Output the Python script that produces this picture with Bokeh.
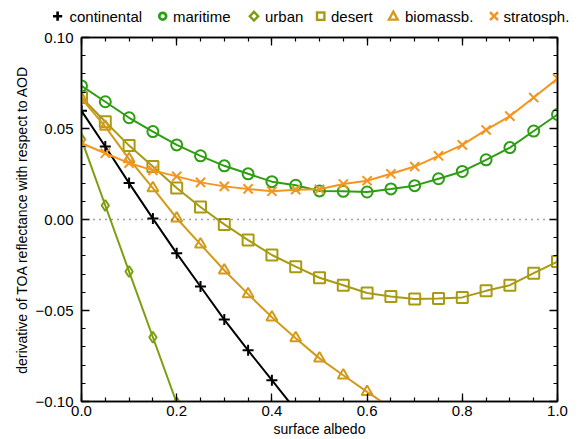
from bokeh.plotting import figure
from bokeh.models import Range1d, LinearAxis, FixedTicker, Span, Div
from bokeh.layouts import column
from bokeh.embed import file_html
from bokeh.resources import INLINE

albedo = [0.0, 0.05, 0.1, 0.15, 0.2, 0.25, 0.3, 0.35, 0.4, 0.45, 0.5,
          0.55, 0.6, 0.65, 0.7, 0.75, 0.8, 0.85, 0.9, 0.95, 1.0]

continental = [0.0597, 0.0401, 0.0200, 0.0005, -0.0186, -0.0368, -0.0550, -0.0719, -0.0883, -0.1047]
maritime = [0.0734, 0.0647, 0.0559, 0.0483, 0.0410, 0.0350, 0.0295, 0.0251, 0.0208, 0.0188, 0.0157,
            0.0155, 0.0151, 0.0168, 0.0186, 0.0224, 0.0264, 0.0328, 0.0395, 0.0486, 0.0577]
urban = [0.0440, 0.0077, -0.0286, -0.0647, -0.1008]
desert = [0.0670, 0.0537, 0.0406, 0.0291, 0.0173, 0.0069, -0.0027, -0.0113, -0.0195, -0.0259, -0.0320,
          -0.0361, -0.0404, -0.0423, -0.0437, -0.0434, -0.0428, -0.0392, -0.0361, -0.0295, -0.0231]
biomassb = [0.0665, 0.0510, 0.0332, 0.0173, 0.0007, -0.0137, -0.0279, -0.0410, -0.0537, -0.0652, -0.0763,
            -0.0856, -0.0947, -0.1035]
stratosph = [0.0419, 0.0364, 0.0310, 0.0270, 0.0237, 0.0204, 0.0182, 0.0168, 0.0155, 0.0164, 0.0166,
             0.0195, 0.0213, 0.0251, 0.0291, 0.0350, 0.0410, 0.0492, 0.0568, 0.0670, 0.0774]

series_names = ["continental", "maritime", "urban", "desert", "biomassb.", "stratosph."]

x_ticks = [0.0, 0.2, 0.4, 0.6, 0.8, 1.0]
x_tick_labels = ["0.0", "0.2", "0.4", "0.6", "0.8", "1.0"]
x_minor = [0.05 * i for i in range(21)]
y_ticks = [-0.10, -0.05, 0.0, 0.05, 0.10]
y_tick_labels = ["\u22120.10", "\u22120.05", "0.00", "0.05", "0.10"]
y_minor = [-0.1 + 0.01 * i for i in range(21)]

FONT = "Liberation Sans"

colors = ["#000000", "#2d9e12", "#7c9f10", "#a89b12", "#d39a1a", "#f5951f"]
markers = ["cross", "circle", "diamond", "square", "triangle", "x"]
sizes = [11, 11, 11, 11, 11, 13]
series_values = [continental, maritime, urban, desert, biomassb, stratosph]

p = figure(width=579, height=413, x_range=Range1d(0, 1), y_range=Range1d(-0.1, 0.1),
           output_backend="svg", toolbar_location=None,
           min_border_left=81, min_border_right=22, min_border_top=11, min_border_bottom=36)
p.grid.visible = False
p.outline_line_color = "black"
p.outline_line_width = 1.5

def style_axis(ax, ticks, minor, labels, show_labels):
    ax.ticker = FixedTicker(ticks=ticks, minor_ticks=minor)
    ax.major_label_overrides = {t: l for t, l in zip(ticks, labels)}
    ax.major_tick_in = 8
    ax.major_tick_out = 0
    ax.minor_tick_in = 4
    ax.minor_tick_out = 0
    ax.major_tick_line_color = "black"
    ax.minor_tick_line_color = "black"
    ax.major_tick_line_width = 1.3
    ax.minor_tick_line_width = 1.2
    ax.axis_line_color = "black"
    ax.axis_line_width = 1.5
    ax.major_label_text_font = FONT
    ax.major_label_text_color = "black"
    ax.axis_label_text_font = FONT
    ax.axis_label_text_font_style = "normal"
    ax.axis_label_text_font_size = "14px"
    ax.axis_label_text_color = "black"
    if show_labels:
        ax.major_label_text_font_size = "15px"
    else:
        ax.major_label_text_font_size = "0px"
        ax.major_label_standoff = 0

xa = p.xaxis[0]
style_axis(xa, x_ticks, x_minor, x_tick_labels, True)
xa.axis_label = "surface albedo"
xa.major_label_standoff = 4
xa.axis_label_standoff = 2

ya = p.yaxis[0]
style_axis(ya, y_ticks, y_minor, y_tick_labels, True)
ya.axis_label = "derivative of TOA reflectance with respect to AOD"
ya.major_label_standoff = 8
ya.axis_label_standoff = 3

ra = LinearAxis()
style_axis(ra, y_ticks, y_minor, y_tick_labels, False)
p.add_layout(ra, "right")
ta = LinearAxis()
style_axis(ta, x_ticks, x_minor, x_tick_labels, False)
p.add_layout(ta, "above")

p.add_layout(Span(location=0, dimension="width", line_color="#444444",
                  line_dash="1 5", line_width=1.3))

for name, vals, color, marker, size in zip(series_names, series_values, colors, markers, sizes):
    xs = albedo[:len(vals)]
    p.line(xs, vals, line_color=color, line_width=2)
    p.scatter(xs, vals, marker=marker, size=size, line_color=color,
              fill_color=None, line_width=2)

# legend strip (inline SVG, real text)
glyph_x = [57.6, 162.7, 254.0, 320.7, 393.3, 494.0]
text_x = [69.5, 173.0, 265.0, 331.0, 405.0, 503.5]
gy = 16.2

def legend_glyph(marker, cx, color):
    if marker == "cross":
        return (f'<path d="M{cx-4.6},{gy}H{cx+4.6}M{cx},{gy-4.6}V{gy+4.6}" '
                f'stroke="{color}" stroke-width="2.6" fill="none"/>')
    if marker == "circle":
        return f'<circle cx="{cx}" cy="{gy}" r="3.4" stroke="{color}" stroke-width="2.7" fill="none"/>'
    if marker == "diamond":
        return (f'<polygon points="{cx},{gy-4.4} {cx+4.2},{gy} {cx},{gy+4.4} {cx-4.2},{gy}" '
                f'stroke="{color}" stroke-width="2.4" fill="none"/>')
    if marker == "square":
        return (f'<rect x="{cx-3.7}" y="{gy-3.7}" width="7.4" height="7.4" '
                f'stroke="{color}" stroke-width="2.4" fill="none"/>')
    if marker == "triangle":
        return (f'<polygon points="{cx},{gy-4.6} {cx+4.4},{gy+3.4} {cx-4.4},{gy+3.4}" '
                f'stroke="{color}" stroke-width="2.3" fill="none"/>')
    return (f'<path d="M{cx-4},{gy-4}L{cx+4},{gy+4}M{cx-4},{gy+4}L{cx+4},{gy-4}" '
            f'stroke="{color}" stroke-width="2.6" fill="none"/>')

parts = ['<svg xmlns="http://www.w3.org/2000/svg" width="579" height="26" '
         'style="display:block">']
for name, color, marker, gx, tx in zip(series_names, colors, markers, glyph_x, text_x):
    parts.append(legend_glyph(marker, gx, color))
    parts.append(f'<text x="{tx}" y="21.5" font-family="{FONT}" font-size="15px" '
                 f'fill="black">{name}</text>')
parts.append("</svg>")

legend_div = Div(text="".join(parts), width=579, height=26, margin=(0, 0, 0, 0))

layout = column(legend_div, p, spacing=0)
open("out.html", "w").write(file_html(layout, INLINE))
